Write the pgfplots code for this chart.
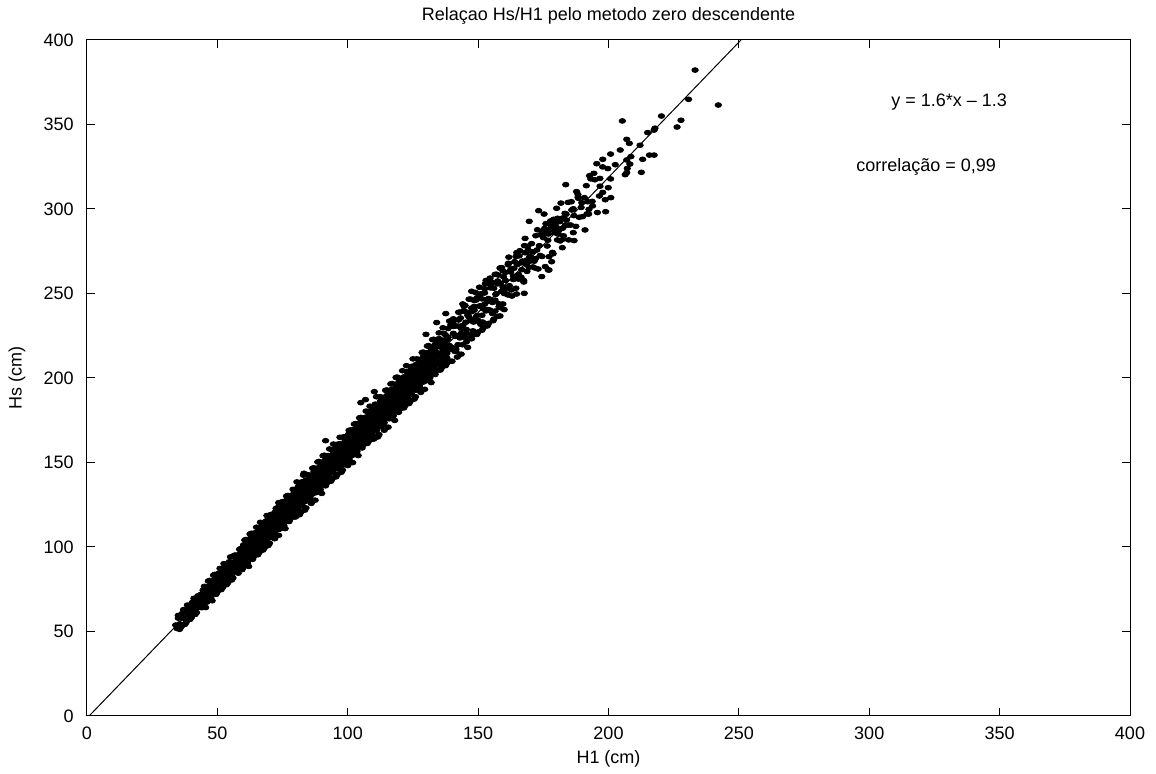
\documentclass[border=0pt]{standalone}
\usepackage{fontspec}
\setmainfont{Liberation Sans}
\usepackage{pgfplots}
\pgfplotsset{compat=1.18}
\begin{document}
\fontsize{9}{11}\selectfont
\begin{tikzpicture}
\begin{axis}[
 scale only axis, width=521.5pt, height=338pt,
 xmin=0,xmax=400,ymin=0,ymax=400,
 xtick={0,50,...,400}, ytick={0,50,...,400},
 tick align=inside, tick pos=both, major tick length=4pt,
 axis line style={line width=0.5pt}, tick style={line width=0.5pt,black},
 /pgf/number format/assume math mode=true,
 tick label style={font=\fontsize{9}{11}\selectfont},
 xticklabel style={yshift=-2.5pt},
 yticklabel style={xshift=-3.5pt},
 title={Relaçao Hs/H1 pelo metodo zero descendente},
 title style={at={(axis description cs:0.5,1)},anchor=base,yshift=3.75pt,font=\fontsize{9}{11}\selectfont},
 xlabel={H1 (cm)}, ylabel={Hs (cm)},
 xlabel style={at={(axis description cs:0.5,0)},anchor=base,yshift=-23.75pt,font=\fontsize{9}{11}\selectfont},
 ylabel style={at={(axis description cs:-0.0671,0.5)},anchor=center,font=\fontsize{9}{11}\selectfont},
 dot/.style={only marks, mark=*, mark size=1.2pt, mark options={xscale=1.35, draw=none, fill=black}},
]
% scattered points
\addplot[dot] coordinates {
(34,53.8)(34.5,51.8)(35,57.9)(35.5,54.5)(36,58.1)(36.5,53.6)(37,57.9)(37.5,61.2)(38,56.7)(38.5,61.7)(39,60.4)(39.5,65.4)(40,61.0)(40.5,64.6)(41,61.2)(41.5,67.2)(42,65.6)(42.5,69.5)(43,66.1)(43.5,68.7)
(44,69.8)(44.5,67.8)(45,73.9)(45.5,70.5)(46,74.1)(46.5,69.6)(47,73.9)(47.5,77.2)(48,72.7)(48.5,77.7)(49,76.4)(49.5,81.4)(50,77.0)(50.5,80.6)(51,77.2)(51.5,83.2)(52,81.6)(52.5,85.5)(53,82.1)(53.5,84.7)
(54,85.8)(54.5,83.8)(55,89.9)(55.5,86.5)(56,90.1)(56.5,85.6)(57,89.9)(57.5,93.2)(58,88.7)(58.5,93.7)(59,92.4)(59.5,97.4)
(60,92.0)(60.5,97.2)(61,91.4)(61.5,100.4)(62,97.4)(62.5,103.1)(63,97.3)(63.5,100.9)(64,102.2)(64.5,98.6)(65,107.7)(65.5,101.9)(66,107.1)(66.5,99.6)(67,105.9)(67.5,110.6)(68,103.1)(68.5,110.5)(69,108.0)(69.5,115.4)
(70,108.0)(70.5,113.2)(71,107.4)(71.5,116.4)(72,113.4)(72.5,119.1)(73,113.3)(73.5,116.9)(74,118.2)(74.5,114.6)(75,123.7)(75.5,117.9)(76,123.1)(76.5,115.6)(77,121.9)(77.5,126.6)(78,119.1)(78.5,126.5)(79,124.0)(79.5,131.4)
(80,124.0)(80.5,129.2)(81,123.4)(81.5,132.4)(82,129.4)(82.5,135.1)(83,129.3)(83.5,132.9)(84,134.2)(84.5,130.6)(85,139.7)(85.5,133.9)(86,139.1)(86.5,131.6)(87,137.9)(87.5,142.6)(88,135.1)(88.5,142.5)(89,140.0)(89.5,147.4)
(90,140.0)(90.5,145.2)(91,139.4)(91.5,148.4)(92,145.4)(92.5,151.1)(93,145.3)(93.5,148.9)(94,150.2)(94.5,146.6)(95,155.7)(95.5,149.9)(96,155.1)(96.5,147.6)(97,153.9)(97.5,158.6)(98,151.1)(98.5,158.5)(99,156.0)(99.5,163.4)
(100,155.0)(100.5,161.8)(101,153.6)(101.5,165.6)(102,161.2)(102.5,168.7)(103,160.5)(103.5,165.1)(104,166.6)(104.5,161.4)(105,173.5)(105.5,165.3)(106,172.1)(106.5,161.6)(107,169.9)(107.5,176.0)(108,165.5)(108.5,175.3)(109,171.6)(109.5,181.4)
(110,171.0)(110.5,177.8)(111,169.6)(111.5,181.6)(112,177.2)(112.5,184.7)(113,176.5)(113.5,181.1)(114,182.6)(114.5,177.4)(115,189.5)(115.5,181.3)(116,188.1)(116.5,177.6)(117,185.9)(117.5,192.0)(118,181.5)(118.5,191.3)(119,187.6)(119.5,197.4)
(120,187.0)(120.5,193.8)(121,185.6)(121.5,197.6)(122,193.2)(122.5,200.7)(123,192.5)(123.5,197.1)(124,198.6)(124.5,193.4)(125,205.5)(125.5,197.3)(126,204.1)(126.5,193.6)(127,201.9)(127.5,208.0)(128,197.5)(128.5,207.3)(129,203.6)(129.5,213.4)
(130,202.0)(130.5,210.4)(131,199.8)(131.5,214.8)(132,209.0)(132.5,218.3)(133,207.7)(133.5,213.3)(134,215.0)(134.5,208.2)(135,223.3)(135.5,212.7)(136,221.1)(136.5,207.6)(137,217.9)(137.5,225.4)(138,211.9)(138.5,224.1)(139,219.2)(139.5,231.4)
(140,218.0)(140.5,226.4)(141,215.8)(141.5,230.8)(142,225.0)(142.5,234.3)(143,223.7)(143.5,229.3)(144,231.0)(144.5,224.2)(145,239.3)(145.5,228.7)(146,237.1)(146.5,223.6)(147,233.9)(147.5,241.4)(148,227.9)(148.5,240.1)(149,235.2)(149.5,247.4)
(150,234.0)(150.5,242.4)(151,231.8)(151.5,246.8)(152,241.0)(152.5,250.3)(153,239.7)(153.5,245.3)(154,247.0)(154.5,240.2)(155,255.3)(155.5,244.7)(156,253.1)(156.5,239.6)(157,249.9)(157.5,257.4)(158,243.9)(158.5,256.1)(159,251.2)(159.5,263.4)(160,250.0)
(40.25,66.6)(41.25,64.7)(42.25,63.9)(43.25,70.7)(44.25,68.1)(45.25,71.8)(46.25,69.2)(47.25,76.1)(48.25,74.9)(49.25,80.7)(50.25,77.0)(51.25,81.1)(52.25,79.5)(53.25,85.3)(54.25,85.2)(55.25,86.4)(56.25,90.8)(57.25,87.2)(58.25,93.0)(59.25,91.8)
(60.25,100.6)(61.25,96.7)(62.25,94.5)(63.25,104.3)(64.25,99.3)(65.25,104.2)(66.25,99.2)(67.25,109.1)(68.25,106.3)(69.25,114.5)(70.25,107.8)(71.25,113.3)(72.25,109.9)(73.25,118.1)(74.25,117.0)(75.25,118.0)(76.25,124.0)(77.25,117.4)(78.25,125.6)(79.25,122.8)
(80.25,132.6)(81.25,128.7)(82.25,126.5)(83.25,136.3)(84.25,131.3)(85.25,136.2)(86.25,131.2)(87.25,141.1)(88.25,138.3)(89.25,146.5)(90.25,139.8)(91.25,145.3)(92.25,141.9)(93.25,150.1)(94.25,149.0)(95.25,150.0)(96.25,156.0)(97.25,149.4)(98.25,157.6)(99.25,154.8)
(100.25,166.6)(101.25,160.7)(102.25,157.1)(103.25,169.9)(104.25,162.5)(105.25,168.6)(106.25,161.2)(107.25,174.1)(108.25,169.7)(109.25,180.3)(110.25,170.6)(111.25,177.5)(112.25,172.3)(113.25,182.9)(114.25,180.8)(115.25,181.6)(116.25,189.2)(117.25,179.6)(118.25,190.2)(119.25,185.8)
(120.25,198.6)(121.25,192.7)(122.25,189.1)(123.25,201.9)(124.25,194.5)(125.25,200.6)(126.25,193.2)(127.25,206.1)(128.25,201.7)(129.25,212.3)(130.25,201.4)(131.25,209.7)(132.25,202.7)(133.25,215.7)(134.25,212.6)(135.25,213.2)(136.25,222.4)(137.25,209.8)(138.25,222.8)(139.25,216.8)
(140.25,232.6)(141.25,224.7)(142.25,219.7)(143.25,235.5)(144.25,225.7)(145.25,233.0)(146.25,223.2)(147.25,239.1)(148.25,233.1)(149.25,246.1)(150.25,233.4)
(160.5,257.7)(161,249.7)(161.5,267.0)(162,254.6)(162.5,264.2)(163,248.5)(163.5,260.3)(164,268.8)(164.5,253.1)(165,267.1)(165.5,261.3)(166,275.3)(166.5,259.6)(167,269.2)(167.5,256.8)(168,274.1)(168.5,267.2)(169,277.9)(169.5,265.5)(170,271.8)
(171,265.7)(172,270.6)(173,264.5)(174,284.8)(175,283.1)(176,291.3)(177,285.2)(178,290.1)(179,293.9)(180,287.8)
(233.2,382.2)(242.1,361.5)(230.7,364.9)(227.8,352.5)(226.3,348.5)(220.3,355.0)(217.8,347.8)(217.5,346.7)(215.0,345.2)(205.3,352.1)(207.0,341.2)(208.0,338.8)(212.1,337.7)(204.5,334.9)(200.8,332.5)(208.6,331.0)(207.0,329.0)(208.2,326.6)(213.1,329.4)(215.7,331.9)(217.5,331.9)(197.8,329.4)(195.5,326.8)(202.6,326.2)(207.2,324.0)(207.0,321.5)(206.4,320.3)(212.6,321.7)(194.4,321.1)(193.2,317.8)(196.7,318.1)(200.8,317.8)(191.5,313.8)(183.6,314.4)(199.9,312.6)(197.8,309.8)(196.5,307.7)(200.9,306.7)(198.9,298.4)(188.3,306.9)(188.3,308.5)(192.0,304.3)(193.9,301.8)(192.5,299.8)(192.4,297.0)(190.1,295.5)(191.0,287.6)(186.5,286.0)(186.8,281.3)(182.3,277.1)(180.1,300.4)(183.3,297.4)(185.9,299.4)(183.9,293.5)(184.6,290.5)(173.2,299.0)(175.3,297.0)(169.6,292.7)(177.8,292.1)(181.4,292.5)(179.9,289.6)(182.4,288.6)(180.9,287.2)(178.2,288.6)(175.0,286.6)(172.1,284.2)(168.0,282.6)(182.7,282.2)(180.4,281.7)(164.8,274.2)(169.2,275.7)(177.2,271.8)(178.2,268.8)(177.2,263.9)(174.4,260.0)(168.6,269.8)(161.6,267.9)(158.4,265.0)(154.6,259.1)
(137.6,238.1)(134.1,232.8)(130,225.8)(147.5,251.3)(144.1,243.8)(167.7,250.1)(158.4,236.7)(176.9,263.9)(91.5,162.9)(105,185.4)(106.8,187.2)(110.2,191.9)(83.2,143.6)(73.5,126.2)(98.3,148.5)(101.9,149.9)
};
% dense core of the cloud
\addplot[dot] coordinates {
(39,59.6)(39,62.1)(40.5,62.0)(40.5,64.5)(42,64.4)(42,66.9)
(43.5,64.3)(43.5,66.8)(43.5,69.3)(43.5,71.8)(45,66.7)(45,69.2)(45,71.7)(45,74.2)(46.5,69.1)(46.5,71.6)(46.5,74.1)(46.5,76.6)
(48,71.5)(48,74.0)(48,76.5)(48,79.0)(49.5,73.9)(49.5,76.4)(49.5,78.9)(49.5,81.4)(51,76.3)(51,78.8)(51,81.3)(51,83.8)
(52.5,78.7)(52.5,81.2)(52.5,83.7)(52.5,86.2)(54,81.1)(54,83.6)(54,86.1)(54,88.6)(55.5,83.5)(55.5,86.0)(55.5,88.5)(55.5,91.0)
(57,85.9)(57,88.4)(57,90.9)(57,93.4)(58.5,88.3)(58.5,90.8)(58.5,93.3)(58.5,95.8)
(60,88.7)(60,91.2)(60,93.7)(60,96.2)(60,98.7)(60,101.2)(61.5,91.1)(61.5,93.6)(61.5,96.1)(61.5,98.6)(61.5,101.1)(61.5,103.6)
(63,93.5)(63,96.0)(63,98.5)(63,101.0)(63,103.5)(63,106.0)(64.5,95.9)(64.5,98.4)(64.5,100.9)(64.5,103.4)(64.5,105.9)(64.5,108.4)
(66,98.3)(66,100.8)(66,103.3)(66,105.8)(66,108.3)(66,110.8)(67.5,100.7)(67.5,103.2)(67.5,105.7)(67.5,108.2)(67.5,110.7)(67.5,113.2)
(69,103.1)(69,105.6)(69,108.1)(69,110.6)(69,113.1)(69,115.6)(70.5,105.5)(70.5,108.0)(70.5,110.5)(70.5,113.0)(70.5,115.5)(70.5,118.0)
(72,107.9)(72,110.4)(72,112.9)(72,115.4)(72,117.9)(72,120.4)(73.5,110.3)(73.5,112.8)(73.5,115.3)(73.5,117.8)(73.5,120.3)(73.5,122.8)
(75,112.7)(75,115.2)(75,117.7)(75,120.2)(75,122.7)(75,125.2)(76.5,115.1)(76.5,117.6)(76.5,120.1)(76.5,122.6)(76.5,125.1)(76.5,127.6)
(78,117.5)(78,120.0)(78,122.5)(78,125.0)(78,127.5)(78,130.0)(79.5,119.9)(79.5,122.4)(79.5,124.9)(79.5,127.4)(79.5,129.9)(79.5,132.4)
(81,122.3)(81,124.8)(81,127.3)(81,129.8)(81,132.3)(81,134.8)(82.5,124.7)(82.5,127.2)(82.5,129.7)(82.5,132.2)(82.5,134.7)(82.5,137.2)
(84,127.1)(84,129.6)(84,132.1)(84,134.6)(84,137.1)(84,139.6)(85.5,129.5)(85.5,132.0)(85.5,134.5)(85.5,137.0)(85.5,139.5)(85.5,142.0)
(87,131.9)(87,134.4)(87,136.9)(87,139.4)(87,141.9)(87,144.4)(88.5,134.3)(88.5,136.8)(88.5,139.3)(88.5,141.8)(88.5,144.3)(88.5,146.8)
(90,136.7)(90,139.2)(90,141.7)(90,144.2)(90,146.7)(90,149.2)(91.5,139.1)(91.5,141.6)(91.5,144.1)(91.5,146.6)(91.5,149.1)(91.5,151.6)
(93,141.5)(93,144.0)(93,146.5)(93,149.0)(93,151.5)(93,154.0)(94.5,143.9)(94.5,146.4)(94.5,148.9)(94.5,151.4)(94.5,153.9)(94.5,156.4)
(96,146.3)(96,148.8)(96,151.3)(96,153.8)(96,156.3)(96,158.8)(97.5,148.7)(97.5,151.2)(97.5,153.7)(97.5,156.2)(97.5,158.7)(97.5,161.2)
(99,151.1)(99,153.6)(99,156.1)(99,158.6)(99,161.1)(99,163.6)
(100.5,152.0)(100.5,154.5)(100.5,157.0)(100.5,159.5)(100.5,162.0)(100.5,164.5)(100.5,167.0)
(102,154.4)(102,156.9)(102,159.4)(102,161.9)(102,164.4)(102,166.9)(102,169.4)
(103.5,156.8)(103.5,159.3)(103.5,161.8)(103.5,164.3)(103.5,166.8)(103.5,169.3)(103.5,171.8)
(105,159.2)(105,161.7)(105,164.2)(105,166.7)(105,169.2)(105,171.7)(105,174.2)
(106.5,161.6)(106.5,164.1)(106.5,166.6)(106.5,169.1)(106.5,171.6)(106.5,174.1)(106.5,176.6)
(108,164.0)(108,166.5)(108,169.0)(108,171.5)(108,174.0)(108,176.5)(108,179.0)
(109.5,166.4)(109.5,168.9)(109.5,171.4)(109.5,173.9)(109.5,176.4)(109.5,178.9)(109.5,181.4)
(111,168.8)(111,171.3)(111,173.8)(111,176.3)(111,178.8)(111,181.3)(111,183.8)
(112.5,171.2)(112.5,173.7)(112.5,176.2)(112.5,178.7)(112.5,181.2)(112.5,183.7)(112.5,186.2)
(114,173.6)(114,176.1)(114,178.6)(114,181.1)(114,183.6)(114,186.1)(114,188.6)
(115.5,176.0)(115.5,178.5)(115.5,181.0)(115.5,183.5)(115.5,186.0)(115.5,188.5)(115.5,191.0)
(117,178.4)(117,180.9)(117,183.4)(117,185.9)(117,188.4)(117,190.9)(117,193.4)
(118.5,180.8)(118.5,183.3)(118.5,185.8)(118.5,188.3)(118.5,190.8)(118.5,193.3)(118.5,195.8)
(120,183.2)(120,185.7)(120,188.2)(120,190.7)(120,193.2)(120,195.7)(120,198.2)
(121.5,185.6)(121.5,188.1)(121.5,190.6)(121.5,193.1)(121.5,195.6)(121.5,198.1)(121.5,200.6)
(123,188.0)(123,190.5)(123,193.0)(123,195.5)(123,198.0)(123,200.5)(123,203.0)
(124.5,190.4)(124.5,192.9)(124.5,195.4)(124.5,197.9)(124.5,200.4)(124.5,202.9)(124.5,205.4)
(126,192.8)(126,195.3)(126,197.8)(126,200.3)(126,202.8)(126,205.3)(126,207.8)
(127.5,195.2)(127.5,197.7)(127.5,200.2)(127.5,202.7)(127.5,205.2)(127.5,207.7)(127.5,210.2)
(129,197.6)(129,200.1)(129,202.6)(129,205.1)(129,207.6)(129,210.1)(129,212.6)
(130.5,200.0)(130.5,202.5)(130.5,205.0)(130.5,207.5)(130.5,210.0)(130.5,212.5)(130.5,215.0)
(132,202.4)(132,204.9)(132,207.4)(132,209.9)(132,212.4)(132,214.9)(132,217.4)
(133.5,204.8)(133.5,207.3)(133.5,209.8)(133.5,212.3)(133.5,214.8)(133.5,217.3)(133.5,219.8)
(135,209.7)(135,214.7)(135,219.7)(135.75,213.4)(135.75,218.4)(136.5,212.1)(136.5,217.1)(136.5,222.1)(137.25,215.8)(137.25,220.8)(138,214.5)(138,219.5)(138,224.5)
};
% edges of the cloud
\addplot[dot] coordinates {
(35,59.5)(36,52.6)(37,62.9)(38,55.3)(39,64.6)(40,58.2)(41,69.6)(42,61.2)(43,71.3)(44,64.1)
(45,76.7)(46,67.4)(47,80.2)(48,68.2)(49,83.8)(50,73.5)(51,87.3)(52,76.0)(53,88.4)(54,78.8)(55,94.1)(56,81.7)(57,95.2)(58,84.5)(59,99.1)
(60,88.4)(61,104.4)(62,88.5)(63,108.1)(64,94.4)(65,111.7)(66,96.7)(67,112.2)(68,99.4)(69,118.6)(70,102.2)(71,119.1)(72,104.9)(73,123.2)(74,110.8)(75,126.8)(76,110.9)(77,130.5)(78,116.8)(79,134.1)
(80,117.8)(81,135.7)(82,120.5)(83,142.5)(84,123.1)(85,142.6)(86,125.8)(87,146.8)(88,132.2)(89,150.6)(90,131.7)(91,154.3)(92,138.0)(93,158.0)(94,140.2)(95,158.1)(96,142.9)(97,164.9)(98,145.5)(99,165.0)
(100,148.2)(101,169.2)(102,154.6)(103,173.0)(104,154.1)(105,176.7)(106,160.4)(107,180.4)(108,162.6)(109,180.5)
(110,163.9)(111,188.9)(112,166.5)(113,188.5)(114,169.1)(115,192.9)(116,175.9)(117,196.7)(118,174.9)(119,200.5)(120,181.7)(121,204.3)(122,183.7)(123,203.9)(124,186.3)(125,211.3)(126,188.9)(127,210.9)(128,191.5)(129,215.3)
(130,198.3)(131,219.1)(132,197.3)(133,222.9)(134,204.1)(135,226.7)(136,206.1)(137,226.3)(138,208.7)(139,233.7)
(140,209.9)(141,234.4)(142,212.4)(143,239.0)(144,219.7)(145,242.9)(146,218.1)(147,246.7)(148,225.4)(149,250.6)(150,227.2)(151,249.8)(152,229.8)(153,257.7)(154,232.3)(155,256.8)(156,234.8)(157,261.4)(158,242.1)(159,265.3)(160,240.5)
(35.5,51.3)(36.5,60.6)(37.5,54.2)(38.5,65.6)(39.5,57.2)(40.5,67.3)(41.5,60.1)(42.5,71.0)(43.5,64.8)(44.5,74.4)
(45.5,64.2)(46.5,79.8)(47.5,69.5)(48.5,83.3)(49.5,72.0)(50.5,84.4)(51.5,74.8)(52.5,90.1)(53.5,77.7)(54.5,91.2)(55.5,80.5)(56.5,95.1)(57.5,85.8)(58.5,98.6)(59.5,86.6)
(60.5,104.1)(61.5,90.4)(62.5,107.7)(63.5,92.7)(64.5,108.2)(65.5,95.4)(66.5,114.6)(67.5,98.2)(68.5,115.1)(69.5,100.9)(70.5,119.2)(71.5,106.8)(72.5,122.8)(73.5,106.9)(74.5,126.5)(75.5,112.8)(76.5,130.1)(77.5,115.1)(78.5,130.6)(79.5,117.8)
(80.5,138.5)(81.5,119.1)(82.5,138.6)(83.5,121.8)(84.5,142.8)(85.5,128.2)(86.5,146.6)(87.5,127.7)(88.5,150.3)(89.5,134.0)(90.5,154.0)(91.5,136.2)(92.5,154.1)(93.5,138.9)(94.5,160.9)(95.5,141.5)(96.5,161.0)(97.5,144.2)(98.5,165.2)(99.5,150.6)
(100.5,169.0)(101.5,150.1)(102.5,172.7)(103.5,156.4)(104.5,176.4)(105.5,158.6)(106.5,176.5)(107.5,161.3)(108.5,183.3)(109.5,163.9)
(110.5,184.5)(111.5,165.1)(112.5,188.9)(113.5,171.9)(114.5,192.7)(115.5,170.9)(116.5,196.5)(117.5,177.7)(118.5,200.3)(119.5,179.7)(120.5,199.9)(121.5,182.3)(122.5,207.3)(123.5,184.9)(124.5,206.9)(125.5,187.5)(126.5,211.3)(127.5,194.3)(128.5,215.1)(129.5,193.3)
(130.5,218.9)(131.5,200.1)(132.5,222.7)(133.5,202.1)(134.5,222.3)(135.5,204.7)(136.5,229.7)(137.5,207.3)(138.5,229.3)(139.5,209.9)
(140.5,235.0)(141.5,215.7)(142.5,238.9)(143.5,214.1)(144.5,242.7)(145.5,221.4)(146.5,246.6)(147.5,223.2)(148.5,245.8)(149.5,225.8)(150.5,253.7)(151.5,228.3)(152.5,252.8)(153.5,230.8)(154.5,257.4)(155.5,238.1)(156.5,261.3)(157.5,236.5)(158.5,265.1)(159.5,243.8)
};
% upper, sparser part of the cloud
\addplot[dot] coordinates {
(150.75,242.7)(151.75,233.1)(152.75,255.7)(153.75,240.5)(154.75,253.3)(155.75,233.9)(156.75,249.5)(157.75,260.9)(158.75,241.5)(159.75,259.9)
(160.75,253.1)(161.75,271.5)(162.75,252.1)(163.75,264.9)(164.75,249.7)(165.75,272.3)(166.75,264.1)(167.75,278.3)(168.75,263.1)(169.75,271.7)
(170.75,274.7)(171.75,265.1)(172.75,287.7)(173.75,272.5)(174.75,285.3)(175.75,265.9)(176.75,281.5)(177.75,292.9)(178.75,273.5)(179.75,291.9)
(180.75,285.1)(181.75,303.5)(182.75,284.1)(183.75,296.9)(184.75,281.7)(185.75,304.3)(186.75,296.1)(187.75,310.3)(188.75,295.1)(189.75,303.7)
(190.75,306.7)(191.75,297.1)(192.75,319.7)(193.75,304.5)(194.75,317.3)(195.75,297.9)(196.75,313.5)(197.75,324.9)(198.75,305.5)(199.75,323.9)
(140.5,230.5)(141.5,217.1)(142.5,230.7)(143.5,226.3)(144.5,239.9)(145.5,226.5)(146.5,236.1)(147.5,225.7)(148.5,242.3)(149.5,236.9)
(150.5,247.5)(151.5,237.1)(152.5,243.7)(153.5,246.3)(154.5,239.9)(155.5,256.5)(156.5,246.1)(157.5,255.7)(158.5,242.3)(159.5,253.9)
(160.5,262.5)(161.5,249.1)(162.5,262.7)(163.5,258.3)(164.5,271.9)(165.5,258.5)(166.5,268.1)(167.5,257.7)(168.5,274.3)(169.5,268.9)
(170.5,279.5)(171.5,269.1)(172.5,275.7)(173.5,278.3)(174.5,271.9)(175.5,288.5)(176.5,278.1)(177.5,287.7)(178.5,274.3)(179.5,285.9)
(180.5,294.5)(181.5,281.1)(182.5,294.7)(183.5,290.3)(184.5,303.9)(185.5,290.5)(186.5,300.1)(187.5,289.7)(188.5,306.3)(189.5,300.9)
};
\addplot[black, line width=0.5pt] coordinates {(0,-1.3)(260,414.7)};
\node[anchor=west, font=\fontsize{9}{11}\selectfont] at (axis cs:306,363) {y = 1.6*x – 1.3};
\node[anchor=west, font=\fontsize{9}{11}\selectfont] at (axis cs:292.6,325) {correlação = 0,99};
\end{axis}
\path (current axis.south west) ++(-43.5pt,-27.5pt);
\path (current axis.north east) ++(13pt,20pt);
\end{tikzpicture}
\end{document}
